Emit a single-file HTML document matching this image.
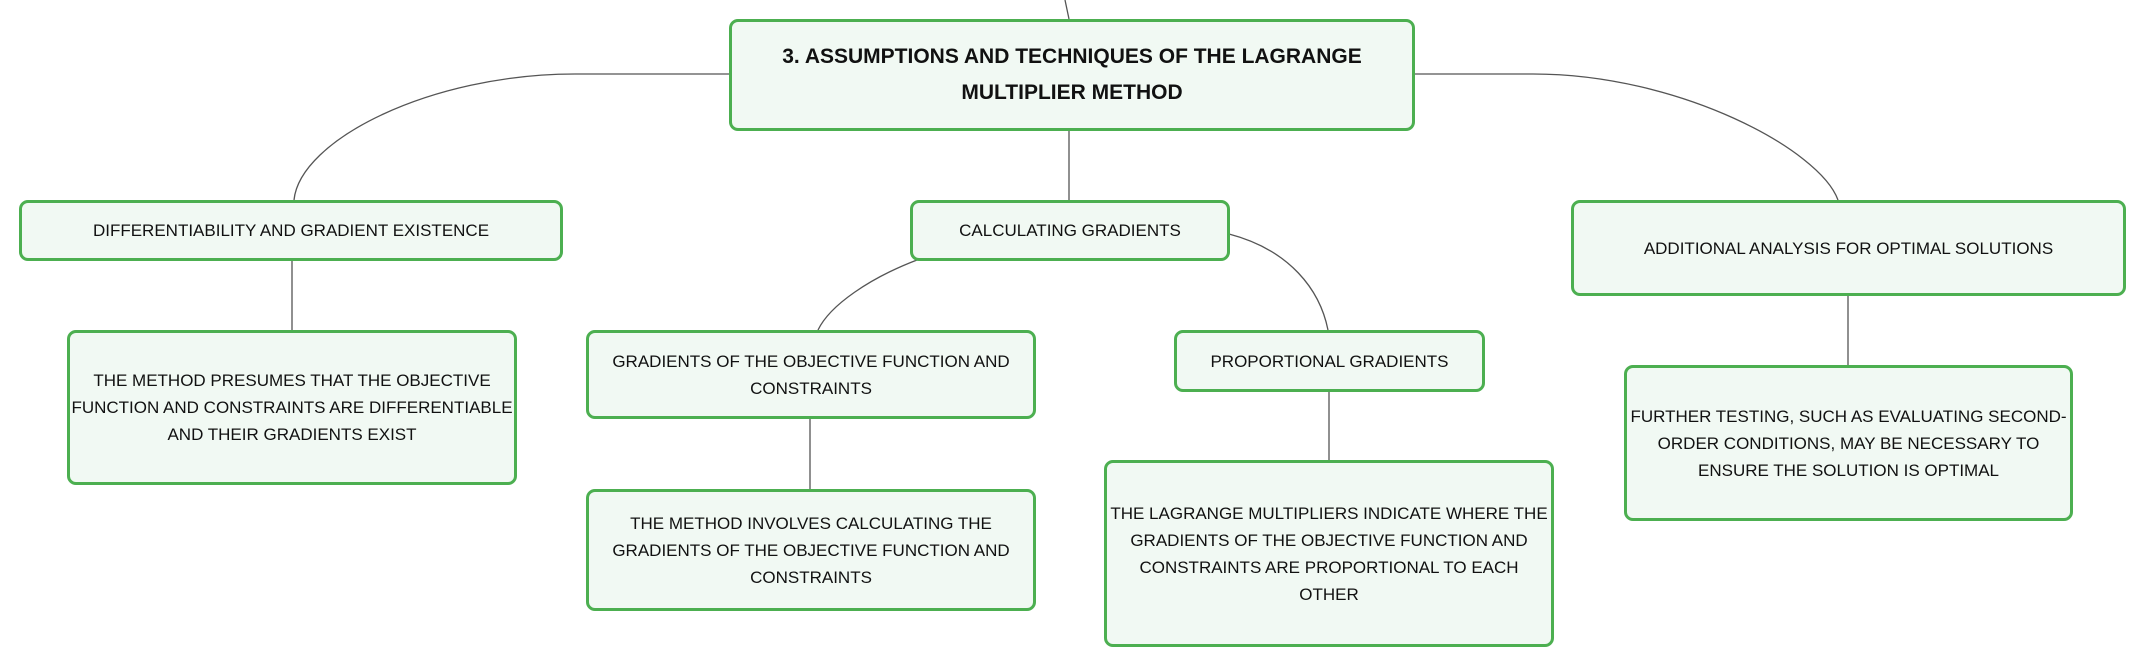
<!DOCTYPE html>
<html><head><meta charset="utf-8"><style>
body{margin:0;width:2146px;height:667px;background:#fff;position:relative;overflow:hidden;font-family:"Liberation Sans",sans-serif;}
.n{position:absolute;box-sizing:border-box;border:3px solid #4caf50;border-radius:9px;background:#f1f9f3;display:flex;align-items:center;justify-content:center;text-align:center;color:#111;font-size:17px;line-height:27px;white-space:nowrap;}
.r{font-weight:bold;font-size:21px;line-height:36px;}
svg{position:absolute;left:0;top:0;}
</style></head><body>
<svg width="2146" height="667" fill="none" stroke="#555" stroke-width="1.3">
<path d="M1065,0 L1069,19"/>
<path d="M729,74 L575,74 C430,74 300,140 294,200"/>
<path d="M1415,74 L1533,74 C1680,74 1820,150 1838,200"/>
<path d="M1069,131 L1069,200"/>
<path d="M292,261 L292,330"/>
<path d="M917,260 C870,278 830,305 818,330"/>
<path d="M1229,234 C1290,250 1320,290 1328,330"/>
<path d="M810,419 L810,489"/>
<path d="M1329,392 L1329,460"/>
<path d="M1848,296 L1848,365"/>
</svg>
<div class="n r" style="left:729px;top:19px;width:686px;height:112px;">3. ASSUMPTIONS AND TECHNIQUES OF THE LAGRANGE<br>MULTIPLIER METHOD</div>
<div class="n" style="left:19px;top:200px;width:544px;height:61px;">DIFFERENTIABILITY AND GRADIENT EXISTENCE</div>
<div class="n" style="left:67px;top:330px;width:450px;height:155px;">THE METHOD PRESUMES THAT THE OBJECTIVE<br>FUNCTION AND CONSTRAINTS ARE DIFFERENTIABLE<br>AND THEIR GRADIENTS EXIST</div>
<div class="n" style="left:910px;top:200px;width:320px;height:61px;">CALCULATING GRADIENTS</div>
<div class="n" style="left:586px;top:330px;width:450px;height:89px;">GRADIENTS OF THE OBJECTIVE FUNCTION AND<br>CONSTRAINTS</div>
<div class="n" style="left:586px;top:489px;width:450px;height:122px;">THE METHOD INVOLVES CALCULATING THE<br>GRADIENTS OF THE OBJECTIVE FUNCTION AND<br>CONSTRAINTS</div>
<div class="n" style="left:1174px;top:330px;width:311px;height:62px;">PROPORTIONAL GRADIENTS</div>
<div class="n" style="left:1104px;top:460px;width:450px;height:187px;">THE LAGRANGE MULTIPLIERS INDICATE WHERE THE<br>GRADIENTS OF THE OBJECTIVE FUNCTION AND<br>CONSTRAINTS ARE PROPORTIONAL TO EACH<br>OTHER</div>
<div class="n" style="left:1571px;top:200px;width:555px;height:96px;">ADDITIONAL ANALYSIS FOR OPTIMAL SOLUTIONS</div>
<div class="n" style="left:1624px;top:365px;width:449px;height:156px;">FURTHER TESTING, SUCH AS EVALUATING SECOND-<br>ORDER CONDITIONS, MAY BE NECESSARY TO<br>ENSURE THE SOLUTION IS OPTIMAL</div>
</body></html>
